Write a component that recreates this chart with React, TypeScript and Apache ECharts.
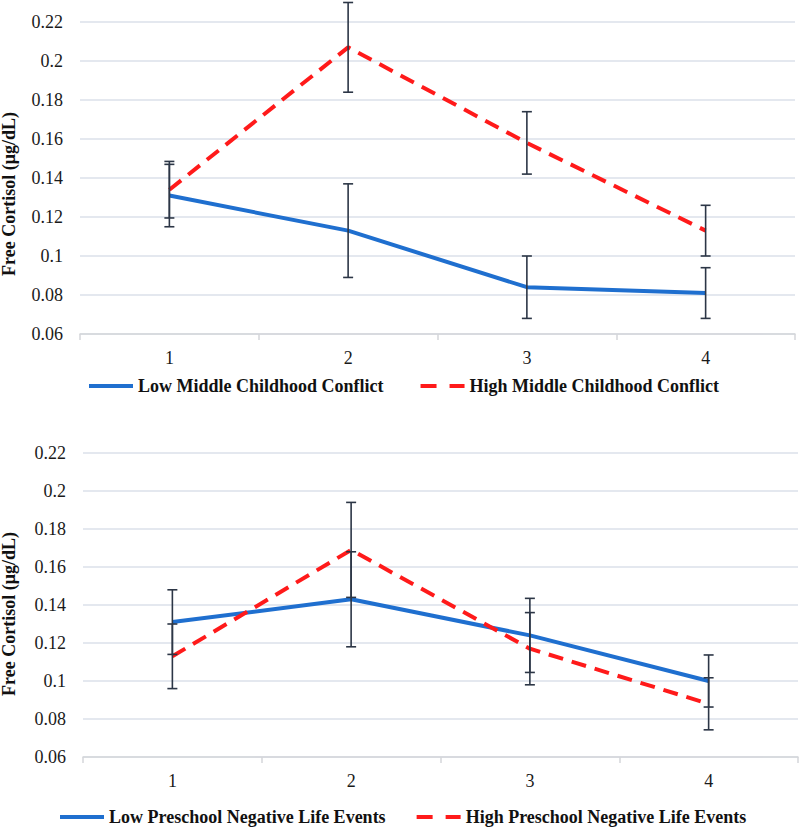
import React, { useEffect, useRef } from 'react';
import * as echarts from 'echarts';

const categories = ['1', '2', '3', '4'];

const yMin = 0.06;
const yMax = 0.22;
const yStep = 0.02;

const topNames = ['Low Middle Childhood Conflict', 'High Middle Childhood Conflict'];
const topLow = [0.131, 0.113, 0.084, 0.081];
const topLowErr = [0.016, 0.024, 0.016, 0.013];
const topHigh = [0.134, 0.207, 0.158, 0.113];
const topHighErr = [0.0145, 0.023, 0.016, 0.013];

const bottomNames = ['Low Preschool Negative Life Events', 'High Preschool Negative Life Events'];
const botLow = [0.131, 0.143, 0.124, 0.1];
const botLowErr = [0.017, 0.025, 0.0195, 0.0137];
const botHigh = [0.113, 0.169, 0.117, 0.088];
const botHighErr = [0.017, 0.025, 0.019, 0.0137];

const yTitle = 'Free Cortisol (μg/dL)';

const BLUE = '#1f6fcf';
const RED = '#ff1a1a';
const ERR = '#2c3646';
const FONT = 'Liberation Serif';

const SOLID_ICON = 'path://M0,0h44v4h-44z';
const DASH_ICON = 'path://M0,0h16v4h-16z M29,0h15v4h-15z';

function errData(vals: number[], errs: number[]) {
  return vals.map((v, i) => [i, v - errs[i], v + errs[i]]);
}

function errSeries(idx: number, data: number[][]) {
  return {
    type: 'custom',
    xAxisIndex: idx,
    yAxisIndex: idx,
    clip: false,
    z: 5,
    silent: true,
    encode: { x: 0, y: [1, 2] },
    data,
    renderItem: (params: any, api: any) => {
      const x = api.value(0);
      const lo = api.coord([x, api.value(1)]);
      const hi = api.coord([x, api.value(2)]);
      const hw = 5;
      const style = { stroke: ERR, lineWidth: 1.6 };
      return {
        type: 'group',
        children: [
          { type: 'line', shape: { x1: lo[0], y1: lo[1], x2: hi[0], y2: hi[1] }, style },
          { type: 'line', shape: { x1: hi[0] - hw, y1: hi[1], x2: hi[0] + hw, y2: hi[1] }, style },
          { type: 'line', shape: { x1: lo[0] - hw, y1: lo[1], x2: lo[0] + hw, y2: lo[1] }, style },
        ],
      };
    },
  };
}

function lineSeries(idx: number, name: string, data: number[], color: string, dashed: boolean) {
  return {
    type: 'line',
    name,
    xAxisIndex: idx,
    yAxisIndex: idx,
    data,
    symbol: 'none',
    z: 3,
    lineStyle: { color, width: 4, type: dashed ? [15, 9] : 'solid' },
    itemStyle: { color },
  };
}

const tickText = { fontSize: 18, fontFamily: FONT, color: '#1a1a1a', fontWeight: 'normal' };

function xAxis(idx: number) {
  return {
    type: 'category',
    gridIndex: idx,
    data: categories,
    boundaryGap: true,
    axisLine: { show: true, lineStyle: { color: '#d4d6da', width: 1.5 } },
    axisTick: { show: true, length: 6, lineStyle: { color: '#d4d6da', width: 1.5 } },
    axisLabel: { margin: 15, ...tickText },
    splitLine: { show: false },
  };
}

function yAxis(idx: number) {
  return {
    type: 'value',
    gridIndex: idx,
    min: yMin,
    max: yMax,
    interval: yStep,
    axisLine: { show: false },
    axisTick: { show: false },
    axisLabel: { margin: 17, ...tickText },
    splitLine: { show: true, lineStyle: { color: '#dbe1ea', width: 1.5 } },
  };
}

const legendText = { fontFamily: FONT, fontWeight: 'bold', fontSize: 18, color: '#111' };

export default function App() {
  const ref = useRef<HTMLDivElement>(null);
  useEffect(() => {
    document.body.style.margin = '0';
    if (!ref.current) return;
    const chart = echarts.init(ref.current, null, { renderer: 'svg' });
    chart.setOption({
      animation: false,
      backgroundColor: '#ffffff',
      textStyle: { fontFamily: FONT },
      grid: [
        { left: 80, right: 5, top: 22, height: 312 },
        { left: 83, right: 2, top: 453, height: 304 },
      ],
      xAxis: [xAxis(0), xAxis(1)],
      yAxis: [yAxis(0), yAxis(1)],
      legend: [
        {
          data: [
            { name: topNames[0], icon: SOLID_ICON },
            { name: topNames[1], icon: DASH_ICON },
          ],
          left: 84,
          top: 372,
          itemWidth: 44,
          itemHeight: 4,
          itemGap: 37,
          textStyle: legendText,
        },
        {
          data: [
            { name: bottomNames[0], icon: SOLID_ICON },
            { name: bottomNames[1], icon: DASH_ICON },
          ],
          left: 55,
          top: 803,
          itemWidth: 44,
          itemHeight: 4,
          itemGap: 31,
          textStyle: legendText,
        },
      ],
      graphic: [
        {
          type: 'text',
          x: 9,
          y: 194,
          rotation: Math.PI / 2,
          style: {
            text: yTitle,
            font: 'bold 18px "Liberation Serif"',
            fill: '#111',
            textAlign: 'center',
            textVerticalAlign: 'middle',
          },
        },
        {
          type: 'text',
          x: 9,
          y: 614,
          rotation: Math.PI / 2,
          style: {
            text: yTitle,
            font: 'bold 18px "Liberation Serif"',
            fill: '#111',
            textAlign: 'center',
            textVerticalAlign: 'middle',
          },
        },
      ],
      series: [
        lineSeries(0, topNames[0], topLow, BLUE, false),
        lineSeries(0, topNames[1], topHigh, RED, true),
        errSeries(0, errData(topLow, topLowErr)),
        errSeries(0, errData(topHigh, topHighErr)),
        lineSeries(1, bottomNames[0], botLow, BLUE, false),
        lineSeries(1, bottomNames[1], botHigh, RED, true),
        errSeries(1, errData(botLow, botLowErr)),
        errSeries(1, errData(botHigh, botHighErr)),
      ],
    });
    return () => chart.dispose();
  }, []);
  return <div ref={ref} style={{ width: 800, height: 829 }} />;
}
